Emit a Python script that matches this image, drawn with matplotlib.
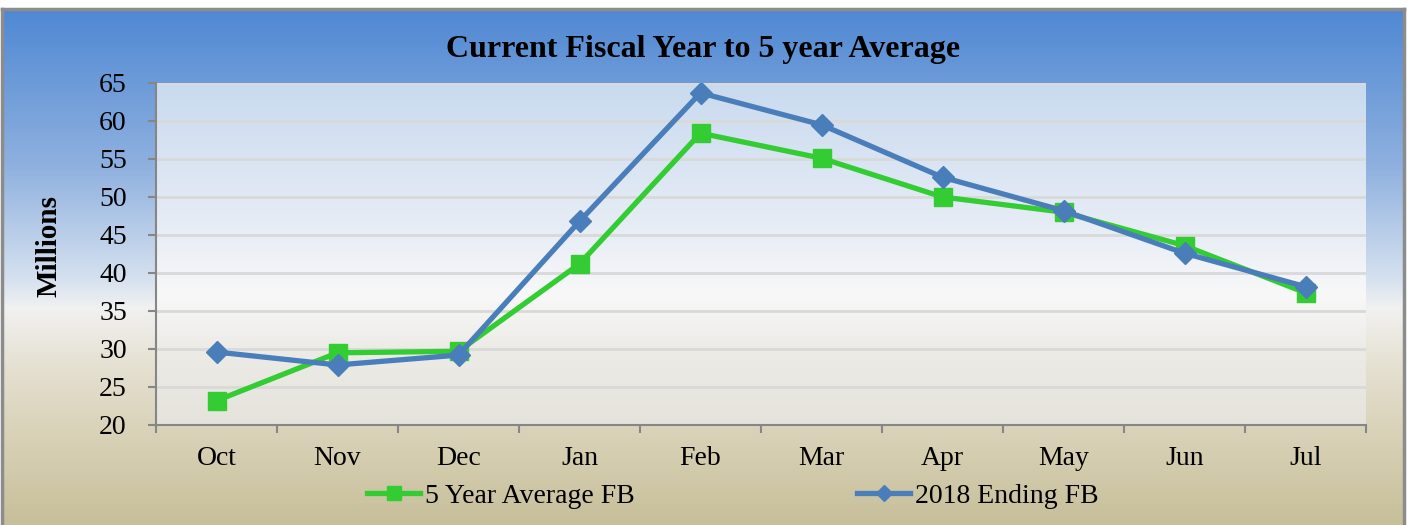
import numpy as np
import matplotlib
matplotlib.use("Agg")
import matplotlib.pyplot as plt
from matplotlib.colors import LinearSegmentedColormap

months = ["Oct", "Nov", "Dec", "Jan", "Feb", "Mar", "Apr", "May", "Jun", "Jul"]
avg_5yr = [23.2, 29.5, 29.7, 41.2, 58.4, 55.1, 50.0, 48.0, 43.6, 37.4]
ending_2018 = [29.6, 27.9, 29.2, 46.8, 63.7, 59.5, 52.6, 48.2, 42.6, 38.2]
y_ticks = [20, 25, 30, 35, 40, 45, 50, 55, 60, 65]

plt.rcParams['font.family'] = ['Liberation Serif', 'DejaVu Serif']

W, H = 1408, 525
fig = plt.figure(figsize=(W / 100, H / 100), dpi=100, facecolor='white')

# chart-area gradient (blue -> white -> tan)
bg_cmap = LinearSegmentedColormap.from_list("bg", [
    (0.0, "#4f88d3"), (0.30, "#8eb0df"), (0.52, "#d4e0ef"),
    (0.58, "#f1f1f1"), (0.68, "#e6e2d4"), (0.85, "#d6cfb3"), (1.0, "#c7bf9a")])
bg = fig.add_axes([2 / W, 0, 1402 / W, (H - 9) / H])
bg.imshow(np.linspace(0, 1, 256).reshape(-1, 1), cmap=bg_cmap, aspect='auto',
          extent=[0, 1, 0, 1])
bg.set_xticks([])
bg.set_yticks([])
for side in ['left', 'top', 'right']:
    bg.spines[side].set_color('#8c8c8c')
    bg.spines[side].set_linewidth(2.5)
bg.spines['bottom'].set_visible(False)

# plot area
ax = fig.add_axes([156 / W, (H - 425) / H, 1210 / W, 342 / H])
pa_cmap = LinearSegmentedColormap.from_list("pa", [
    (0.0, "#c9daef"), (0.45, "#e9eef6"), (0.62, "#f8f8f8"), (0.78, "#ecebe6"), (1.0, "#e5e3dc")])
ax.imshow(np.linspace(0, 1, 256).reshape(-1, 1), cmap=pa_cmap, aspect='auto',
          extent=[-0.5, 9.5, 20, 65], zorder=0)

x = np.arange(len(months))
ax.plot(x, avg_5yr, color='#33cc33', lw=3.8, marker='s', markersize=13.5,
        label='5 Year Average FB', zorder=3)
ax.plot(x, ending_2018, color='#4a7ebb', lw=3.8, marker='D', markersize=11,
        label='2018 Ending FB', zorder=4)

ax.set_xlim(-0.5, 9.5)
ax.set_ylim(20, 65)
ax.set_yticks(y_ticks)
ax.set_xticks(x)
ax.set_xticklabels(months)
ax.set_xticks(np.arange(-0.5, 10, 1), minor=True)
ax.tick_params(axis='x', which='major', length=0, pad=15, labelsize=20)
ax.tick_params(axis='x', which='minor', length=6, width=1.5, color='#868686')
ax.tick_params(axis='y', length=6, width=1.5, color='#868686', pad=15, labelsize=20)
ax.grid(axis='y', color='#d9d9d9', lw=2)
ax.set_axisbelow(True)
for side in ['top', 'right']:
    ax.spines[side].set_visible(False)
for side in ['left', 'bottom']:
    ax.spines[side].set_color('#868686')
    ax.spines[side].set_linewidth(1.5)

ax.set_ylabel('Millions', fontsize=21, fontweight='bold')
ax.yaxis.set_label_coords(-0.077, 0.523)
fig.text(703 / W, 1 - 50 / H, 'Current Fiscal Year to 5 year Average',
         ha='center', va='center', fontsize=23, fontweight='bold')

leg = fig.legend(loc='center', bbox_to_anchor=(733 / W, 1 - 496 / H), ncol=2,
                 frameon=False, fontsize=20, handlelength=1.9, handletextpad=0.18,
                 columnspacing=8.0, markerscale=0.75)

fig.savefig('out.png', dpi=100, facecolor=fig.get_facecolor())
